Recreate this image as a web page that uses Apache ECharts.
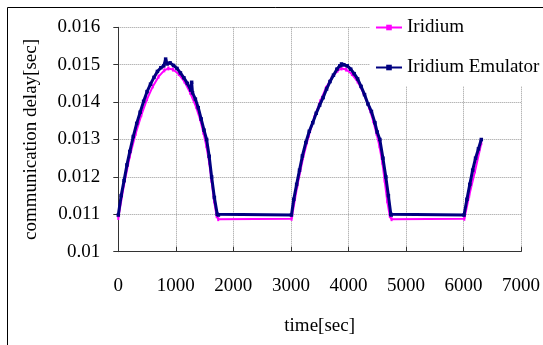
<!DOCTYPE html>
<html>
<head>
<meta charset="utf-8">
<script src="https://cdn.jsdelivr.net/npm/echarts@6/dist/echarts.min.js"></script>
<style>
html,body{margin:0;padding:0;background:#fff;}
#chart{width:543px;height:345px;}
</style>
</head>
<body>
<div id="chart"></div>
<script>
// Iridium (measured)
const irTimes = [0,100,200,300,400,500,600,700,800,870,950,1050,1150,1250,1350,1420,1480,1530,1580,1620,1665,1710,1737,
  3012,3110,3210,3310,3410,3510,3610,3710,3810,3880,3960,4060,4160,4260,4360,4430,4490,4540,4590,4630,4675,4720,4750,
  6015,6100,6200,6310];
const irValues = [0.01090,0.01180,0.01255,0.01315,0.01365,0.01408,0.01442,0.01468,0.01485,0.01490,0.01487,0.01475,0.01455,0.01425,0.01388,0.01355,0.01318,0.01283,0.01238,0.01190,0.01135,0.01095,0.01087,
  0.01088,0.01175,0.01250,0.01310,0.01360,0.01402,0.01438,0.01465,0.01484,0.01490,0.01487,0.01475,0.01455,0.01425,0.01385,0.01350,0.01315,0.01282,0.01238,0.01190,0.01135,0.01095,0.01087,
  0.01088,0.01150,0.01215,0.01290];
// Iridium Emulator
const emTimes = [0,50,100,150,200,260,320,380,440,500,560,620,680,740,790,823,850,900,960,1020,1080,1140,1200,1260,1275,1290,1340,1390,1440,1490,1535,1580,1622,1670,1720,1740,
  3010,3050,3100,3150,3200,3260,3320,3380,3440,3500,3560,3620,3680,3740,3800,3850,3880,3920,3980,4040,4100,4160,4220,4280,4340,4400,4460,4500,4546,4600,4650,4695,4737,4745,
  6010,6060,6110,6160,6210,6260,6310];
const emValues = [0.01098,0.01150,0.01190,0.01232,0.01268,0.01308,0.01343,0.01373,0.01402,0.01428,0.01448,0.01466,0.01482,0.01492,0.01497,0.01515,0.01502,0.01505,0.01498,0.01490,0.01478,0.01465,0.01450,0.01432,0.01453,0.01425,0.01408,0.01385,0.01355,0.01325,0.01300,0.01255,0.01200,0.01145,0.01100,0.01098,
  0.01098,0.01140,0.01180,0.01218,0.01256,0.01292,0.01322,0.01345,0.01370,0.01392,0.01412,0.01435,0.01455,0.01472,0.01488,0.01497,0.01502,0.01500,0.01497,0.01488,0.01476,0.01462,0.01442,0.01420,0.01395,0.01375,0.01345,0.01320,0.01300,0.01250,0.01200,0.01150,0.01100,0.01098,
  0.01098,0.01140,0.01180,0.01218,0.01250,0.01275,0.01300];
const seriesNames = ['Iridium','Iridium Emulator'];
const xTicks = {min:0,max:7000,interval:1000};
const yTicks = {min:0.01,max:0.016,interval:0.001};

const zip = (a,b)=>a.map((t,i)=>[t,b[i]]);
const FONT = 'Liberation Serif';
const FS = 19;
const chart = echarts.init(document.getElementById('chart'), null, {renderer:'canvas'});
chart.setOption({
  animation:false,
  backgroundColor:'#fff',
  grid:{left:118.3,right:21.5,top:27.3,bottom:93.3,containLabel:false},
  legend:{
    orient:'vertical', left:370, top:8,
    padding:[10,40,9,5], itemGap:21, itemWidth:26, itemHeight:7,
    backgroundColor:'#fff', z:10,
    textStyle:{fontFamily:FONT,fontSize:FS,color:'#000'},
    data:seriesNames
  },
  xAxis:{
    type:'value', min:xTicks.min, max:xTicks.max, interval:xTicks.interval,
    name:'time[sec]', nameLocation:'middle', nameGap:65,
    nameTextStyle:{fontFamily:FONT,fontSize:FS,color:'#000'},
    axisLine:{lineStyle:{color:'#333',width:1}},
    axisTick:{inside:true,length:5,lineStyle:{color:'#333'}},
    axisLabel:{fontFamily:FONT,fontSize:FS,color:'#000',margin:25,formatter:v=>String(v)},
    splitLine:{show:true,lineStyle:{color:'#999',type:'dotted',width:1}}
  },
  yAxis:{
    type:'value', min:yTicks.min, max:yTicks.max, interval:yTicks.interval,
    name:'communication delay[sec]', nameLocation:'middle', nameGap:78,
    nameTextStyle:{fontFamily:FONT,fontSize:FS,color:'#000'},
    axisLine:{show:true,lineStyle:{color:'#333',width:1}},
    axisTick:{show:true,inside:false,length:5,lineStyle:{color:'#333'}},
    axisLabel:{fontFamily:FONT,fontSize:FS,color:'#000',margin:18,formatter:v=>String(+v.toFixed(3))},
    splitLine:{show:true,lineStyle:{color:'#999',type:'dotted',width:1}}
  },
  series:[
    {name:seriesNames[0],type:'line',data:zip(irTimes,irValues),
     color:'#ff00ff',lineStyle:{width:2,color:'#ff00ff'},
     symbol:'rect',symbolSize:[2,4],showSymbol:true,itemStyle:{color:'#ff00ff'},z:2},
    {name:seriesNames[1],type:'line',data:zip(emTimes,emValues),
     color:'#000080',lineStyle:{width:3,color:'#000080'},
     symbol:'rect',symbolSize:3.5,showSymbol:true,itemStyle:{color:'#000080'},z:3}
  ],
  graphic:[{type:'rect',shape:{x:7.5,y:7.5,width:600,height:400},
    style:{fill:'none',stroke:'#000',lineWidth:1},z:100,silent:true}]
});
</script>
</body>
</html>
